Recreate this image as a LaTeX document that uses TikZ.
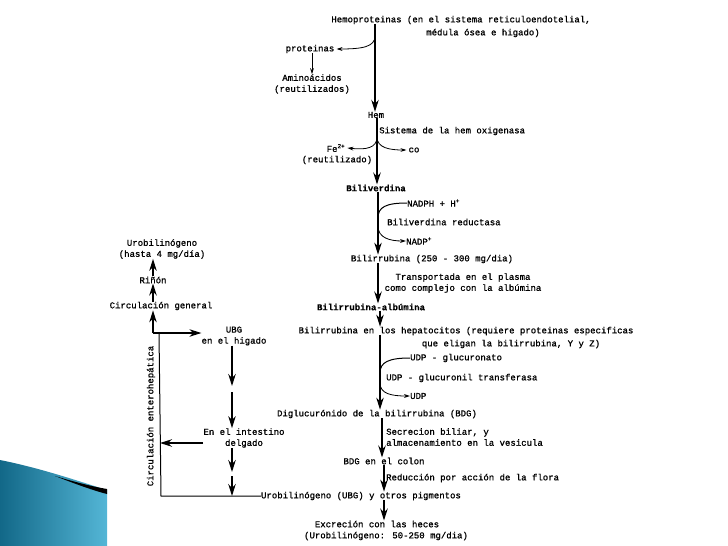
\documentclass[tikz,border=0pt]{standalone}
\usepackage{fontspec}
\setmainfont{Liberation Mono}[FakeBold=1.0,BoldFont={Liberation Mono Bold},BoldFeatures={FakeBold=0.2}]
\usetikzlibrary{arrows.meta}
\definecolor{tealA}{RGB}{18,104,136}
\definecolor{tealB}{RGB}{84,182,214}
\begin{document}
\begin{tikzpicture}[x=1pt,y=-1pt,
  lbl/.style={font=\fontsize{9}{11}\selectfont, inner sep=0pt, align=center},
  bld/.style={lbl, font=\fontsize{9}{11}\selectfont\bfseries},
  big/.style={-{Stealth[length=12pt,width=7.5pt]}, line width=1.2pt},
  small/.style={-{Stealth[length=6pt,width=3.8pt]}, line width=0.8pt},
  ln/.style={line width=1pt}]
\useasboundingbox (0,0) rectangle (728,546);
% decoration
\shade[left color=tealA, right color=tealB] (0,460) .. controls (40,468) and (75,480) .. (107,490) -- (107,546) -- (0,546) -- cycle;
\fill[black] (55,476) .. controls (78,483) and (95,487) .. (107,489) -- (107,494) .. controls (95,491) and (78,485) .. (55,476) -- cycle;
% column coordinates
\coordinate (k1) at (375,0);
\coordinate (k2) at (377,0);
\coordinate (k3) at (378,0);
\coordinate (k4) at (380,0);
\coordinate (k5) at (382,0);
\coordinate (k6) at (384,0);
% main column nodes
\node[lbl] (hemoA) at (461,20) {Hemoproteinas (en el sistema reticuloendotelial,};
\node[lbl] (hemoB) at (483,33) {médula ósea e higado)};
\node[lbl] (prot) at (310,49) {proteinas};
\node[lbl] (amino) at (312,84) {Aminoácidos\\(reutilizados)};
\node[lbl] (hem) at (376,115) {Hem};
\node[lbl, anchor=west] (sist) at (379,131) {Sistema de la hem oxigenasa};
\node[lbl] (fe) at (336,148) {Fe\textsuperscript{2+}};
\node[lbl] (reut) at (337,160) {(reutilizado)};
\node[lbl] (co) at (414,150) {co};
\node[bld] (bv) at (376,188) {Biliverdina};
\node[lbl, anchor=west] (nadph) at (407,203) {NADPH + H\textsuperscript{+}};
\node[lbl, anchor=west] (red) at (387,222) {Biliverdina reductasa};
\node[lbl, anchor=west] (nadp) at (406,241) {NADP\textsuperscript{+}};
\node[lbl] (br) at (432,259) {Bilirrubina (250 - 300 mg/dia)};
\node[lbl] (trans) at (463,283) {Transportada en el plasma\\como complejo con la albúmina};
\node[bld] (alb) at (371,307) {Bilirrubina-albúmina};
\node[lbl] (hepA) at (466,331) {Bilirrubina en los hepatocitos (requiere proteinas especificas};
\node[lbl] (hepB) at (511,344) {que eligan la bilirrubina, Y y Z)};
\node[lbl, anchor=west] (udpg) at (410,358) {UDP - glucuronato};
\node[lbl, anchor=west] (transf) at (386,378) {UDP - glucuronil transferasa};
\node[lbl, anchor=west] (udp) at (410,396) {UDP};
\node[lbl] (bdg) at (377,414) {Diglucurónido de la bilirrubina (BDG)};
\node[lbl, anchor=west, align=left] (secr) at (386,437) {Secrecion biliar, y\\almacenamiento en la vesicula};
\node[lbl] (colon) at (384,461) {BDG en el colon};
\node[lbl, anchor=west] (redu) at (386,478) {Reducción por acción de la flora};
\node[lbl] (ubg) at (361,496) {Urobilinógeno (UBG) y otros pigmentos};
\node[lbl] (exA) at (377,524) {Excreción con las heces};
\node[lbl] (exB) at (386,536) {(Urobilinógeno: 50-250 mg/dia)};
% main arrows
\draw[big] (hemoA.south -| k1) -- (hem.north -| k1);
\draw[big] (hem.south -| k2) -- (bv.north -| k2);
\draw[big] (bv.south -| k3) -- (br.north -| k3);
\draw[big] (br.south -| k3) -- (alb.north -| k3);
\draw[big] (alb.south -| k4) -- (hepA.north -| k4);
\draw[big] (hepA.south -| k4) -- (bdg.north -| k4);
\draw[big] (bdg.south -| k5) -- (colon.north -| k5);
\draw[big] (colon.south -| k6) -- (ubg.north -| k6);
\draw[big] (ubg.south -| k6) -- (exA.north -| k6);
% side branches
\coordinate (b1) at (375,36);
\draw[small] (b1) .. controls (375,47) and (362,49) .. ([xshift=2pt]prot.east);
\draw[small] (prot.south -| amino.north) -- (amino.north);
\coordinate (b2) at (377,137);
\draw[small] (b2) .. controls (377,148) and (366,150) .. ([xshift=2pt]fe.east);
\draw[small] (b2) .. controls (377,148) and (390,150) .. ([xshift=-2pt]co.west);
\coordinate (b3) at (378,218);
\coordinate (b4) at (378,226);
\draw[ln] (nadph.west) .. controls (386,203) and (378,207) .. (b3);
\draw[small] (b4) .. controls (378,238) and (390,241) .. (nadp.west);
\coordinate (b5) at (380,373);
\coordinate (b6) at (380,383);
\draw[ln] (udpg.west) .. controls (389,358) and (380,362) .. (b5);
\draw[small] (b6) .. controls (380,394) and (392,396) .. (udp.west);
% left part
\node[lbl] (ubgh) at (234,336) {UBG\\en el higado};
\node[lbl] (circ) at (161,306) {Circulación general};
\node[lbl] (rin) at (153,280) {Riñón};
\node[lbl] (uro) at (162,249) {Urobilinógeno\\(hasta 4 mg/día)};
\node[lbl] (int) at (244,438) {En el intestino\\delgado};
\node[lbl, rotate=90] (enh) at (151,416) {Circulación enterohepática};
\coordinate (c0) at (153,333);
\coordinate (c1) at (159,333);
\coordinate (c2) at (161,496);
\coordinate (m0) at (232,0);
\coordinate (m1) at (232,386);
\coordinate (m2) at (232,392);
\coordinate (m3) at (232,472);
\coordinate (m4) at (232,476);
\coordinate (m5) at (232,496);
\coordinate (l1) at (203,443);
\coordinate (l2) at (160,443);
\draw[big] (c0) -- (ubgh.west |- c0);
\draw[big] (c0) -- (circ.south -| c0);
\draw[big] (circ.north -| c0) -- (rin.south -| c0);
\draw[big] (rin.north -| c0) -- (uro.south -| c0);
\draw[ln] (c1) -- (c2) -- (ubg.west);
\draw[big] (ubgh.south -| m0) -- (m1);
\draw[big] (m2) -- (int.north -| m0);
\draw[big] (int.south -| m0) -- (m3);
\draw[big] (m4) -- (m5);
\draw[big] (l1) -- (l2);
\end{tikzpicture}
\end{document}
